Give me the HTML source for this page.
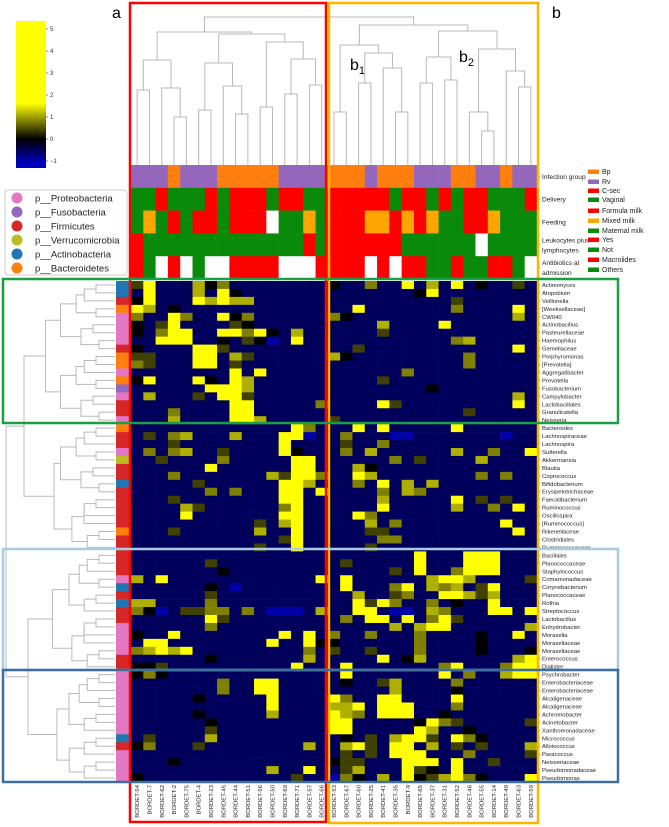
<!DOCTYPE html>
<html><head><meta charset="utf-8"><style>
html,body{margin:0;padding:0;background:#fff;}
svg{display:block;font-family:"Liberation Sans",sans-serif;}
</style></head><body>
<svg id="chart" width="669" height="827" viewBox="0 0 669 827" xmlns="http://www.w3.org/2000/svg">
<defs>
<linearGradient id="cbar" x1="0" y1="1" x2="0" y2="0">
<stop offset="0" stop-color="#0000c8"/><stop offset="0.045" stop-color="#0000b4"/>
<stop offset="0.197" stop-color="#000000"/><stop offset="0.44" stop-color="#ffff00"/><stop offset="1" stop-color="#ffff00"/>
</linearGradient>
</defs>
<g id="colorbar">
<rect x="16" y="21" width="30" height="147" fill="url(#cbar)"/>
</g>
<g id="cbticks" font-size="6" fill="#333"></g>
<text x="112" y="18" font-size="16">a</text>
<text x="552" y="18" font-size="16">b</text>
<text x="350" y="70" font-size="16">b<tspan font-size="11" dy="4">1</tspan></text>
<text x="459" y="62" font-size="16">b<tspan font-size="11" dy="4">2</tspan></text>
<g id="legend">
<rect x="5" y="190" width="122" height="85" rx="3" fill="#fff" stroke="#ccc" stroke-width="1"/>
</g>
<g id="coldendro" stroke="#b8b8b8" stroke-width="1" fill="none"></g>
<g id="rowdendro" stroke="#b8b8b8" stroke-width="1" fill="none"></g>
<g id="annot"></g>
<g id="annlabels" font-size="6.6" fill="#222"></g>
<g id="annlegend" font-size="7" fill="#222"></g>
<g id="phylum"></g>
<g id="cells"></g>
<g id="rowlabels" font-size="5.9" fill="#222"></g>
<g id="collabels" font-size="5.9" fill="#222"></g>
<g id="boxes" fill="none" stroke-width="2.5">
<rect x="130" y="3" width="196" height="819" stroke="#ff0000"/>
<rect x="329" y="3" width="209" height="820" stroke="#ffb400"/>
<rect x="3" y="279" width="615" height="144" stroke="#19a045"/>
<rect x="3" y="549" width="615" height="121" stroke="#a9cbe6"/>
<rect x="3" y="670" width="615" height="112" stroke="#3d6f9c"/>
</g>
</svg>
<script>
// ---- data ----
const columns = ["BORDET-54","BORDET-7","BORDET-62","BORDET-2","BORDET-75","BORDET-4","BORDET-23","BORDET-45","BORDET-44","BORDET-51","BORDET-56","BORDET-50","BORDET-69","BORDET-71","BORDET-57","BORDET-66","BORDET-53","BORDET-67","BORDET-60","BORDET-25","BORDET-41","BORDET-35","BORDET-9","BORDET-65","BORDET-37","BORDET-31","BORDET-52","BORDET-46","BORDET-55","BORDET-14","BORDET-49","BORDET-63","BORDET-59"];
const taxa = ["Actinomyces","Atopobium","Veillonella","[Weeksellaceae]","CW040","Actinobacillus","Pasteurellaceae","Haemophilus","Gemellaceae","Porphyromonas","[Prevotella]","Aggregatibacter","Prevotella","Fusobacterium","Campylobacter","Lactobacillales","Granulicatella","Neisseria",
"Bacteroides","Lachnospiraceae","Lachnospira","Sutterella","Akkermansia","Blautia","Coprococcus","Bifidobacterium","Erysipelotrichaceae","Faecalibacterium","Ruminococcus","Oscillospira","[Ruminococcus]","Rikenellaceae","Clostridiales","Ruminococcaceae",
"Bacillales","Planococcaceae","Staphylococcus","Comamonadaceae","Corynebacterium","Planococcaceae","Rothia","Streptococcus","Lactobacillus","Enhydrobacter","Moraxella","Moraxellaceae","Moraxellaceae","Enterococcus","Dialister",
"Psychrobacter","Enterobacteriaceae","Enterobacteriaceae","Alcaligenaceae","Alcaligenaceae","Achromobacter","Acinetobacter","Xanthomonadaceae","Micrococcus","Alloiococcus","Paracoccus","Neisseriaceae","Pseudomonadaceae","Pseudomonas"];
const phyla = "BBROPPPPROOPOFPRRP"+"ORRPVRRBRRRRRORR"+"RRRPBRBRRPPPPRR"+"PPPPPPPPBRPPPP";
// cell levels: ','=-1.1 '.'=-0.6 '0'=0 '1'=0.4 '2'=0.8 '3'=1.1 '5'=3
const levelValues = {",":-1.1,".":-0.6,"0":0,"1":0.4,"2":0.8,"3":1.1,"5":3};
const cellRows = [
"15...302........"+"0..2..5.3.5.0..1.",
".5...3.50......."+".......05........",
"05...53533......"+"..........1......",
"53.0............"+"..5.......2....5.",
"2..52..502......"+"20.............3.",
"0.15....10......"+"....3....5.......",
"0.255..55250.3.."+"....1............",
"..555..0.10,.5.."+"..........23.....",
"0....551........"+"..1............5.",
"11...55.31......"+"30.........2.....",
"21...55.1......."+"...........2.....",
"........5.5....."+"......2..........",
"05...50.53......"+"....1............",
"......5553......"+"........0........",
".3...1.551......"+"...............3.",
"........55.....2"+"....51.........5.",
"...2....55......"+"...........1.....",
"...3....553....."+"1................",
".............52."+"..5.5.....5......",
".1.23...3...55,."+".2...,,.......,..",
"...1........5..."+".1..2............",
".2.23..1....50.."+".2.3......3..2..5",
"..1....2.....55."+".....2.1....3....",
"......5......55."+"..30.............",
"...2.......31552"+"..53........2.2..",
".....1......553."+"..2.5.3.3........",
"......2.2...55.5"+"....2.32.........",
"...1........55.."+"....3.....5.1.1..",
"....31......25.."+"....5.....3..2.5.",
"....5.......55.."+"..52.............",
"..........1.35.."+"...3.2........5..",
"...1......3..5.."+"...11..........5.",
"............15.."+"....22...........",
"..........1..5.."+"...1.............",
"................"+".......5...555...",
"......1........."+".1.....5...555...",
".......0........"+".....1.5..2555...",
"3.5............5"+".5......3553....1",
"......0.,......."+".5...25.323.15...",
"......1........."+"..3..12..55313...",
"33....2........."+"..5152..2.0..5...",
"20,.1122.2.,,,.3"+"..55.,,.32...55.5",
"......51........"+".2.55.5.251......",
"......2........."+".....3.355......3",
"0..5........5.5."+"2..2...2....0..5.",
".55........5..50"+"0......2....0....",
"23535.........2."+"1..1...2....0...0",
"......0.......3."+"....5.03.......35",
"001..........5.."+".5.......25...255",
"020............."+".5.......5.2..355",
".......2..55...."+".0..13....2......",
".......2..55...."+".....3....0......",
".....0.....5...."+"52..55....5......",
"...........5...."+"335.555...2......",
".....0.....3...."+"532.555..0.......",
"......0........."+"55.....0521.....1",
"......1........."+"55.....53..0.....",
".1....3........."+".0.1.3551.520....",
"02...1........3."+".351.55.3.1.1...3",
"................"+".1.1.555...2....1",
"...0............"+"011...555.5..1...",
"...........3..5."+".13...510.5......",
"0............1.."+",20.3.5013520...5"
];
const infectionGroup = "RRRBRRRBBBBBRRRR"+"BBBRBBBRRRBBRRBRR";
const delivery       = "GGRGGGRGRRRGRRGG"+"RRRRRGRRGRGRRGGGR";
const feeding        = "NMNFNFFNFFFWNNMN"+"FFFMMFMFMNNFFMNNN";
const leukocytes     = "YNNNNNNNNNNNNNYN"+"YYYYYYNNNNNNWNNNN";
const antibiotics    = "MOWMWOWWMMMMWWWM"+"MMMWMWMMOOMOOMMOW";
const cbTicks = [5,4,3,2,1,0,-1];
const phylumNames = ["p__Proteobacteria","p__Fusobacteria","p__Firmicutes","p__Verrucomicrobia","p__Actinobacteria","p__Bacteroidetes"];
const phylumKeys = ["P","F","R","V","B","O"];

// ---- layout ----
const NS="http://www.w3.org/2000/svg";
const X0=131, X1=537, Y0=281, Y1=782;
const colW=(X1-X0)/columns.length, rowH=(Y1-Y0)/taxa.length;
const xPos=c=>X0+c*colW, yPos=r=>Y0+r*rowH;
const xC=c=>xPos(c)+colW/2, yC=r=>yPos(r)+rowH/2;
function mk(tag,attrs,parent){const e=document.createElementNS(NS,tag);for(const k in attrs)e.setAttribute(k,attrs[k]);parent.appendChild(e);return e;}
const phylumColor={P:"#e377c2",F:"#9467bd",R:"#d62728",V:"#bcbd22",B:"#1f77b4",O:"#ff7f0e"};
function valColor(v){
  if(v<0){const t=Math.min(1,-v/1.3);return `rgb(0,0,${Math.round(200*t)})`;}
  const t=Math.min(1,v/1.6);const c=Math.round(255*t);return `rgb(${c},${c},0)`;
}
const cbG=document.getElementById("cbticks");
const cbY=v=>161-(v+1)*(161-29)/6;
cbTicks.forEach(v=>{
  const l=mk("line",{x1:46,x2:48,y1:cbY(v),y2:cbY(v),stroke:"#333","stroke-width":0.6},cbG);
  
  
  const t=mk("text",{x:50,y:cbY(v)+2},cbG);t.textContent=v<0?"\u2212"+(-v):String(v);
  
  
});
const lg=document.getElementById("legend");
phylumNames.forEach((n,i)=>{
  const y=198+i*14;
  const c=mk("circle",{cx:17,cy:y,r:5.5,fill:phylumColor[phylumKeys[i]]},lg);
  
  
  const t=mk("text",{x:35,y:y+3.5,"font-size":"9.5",fill:"#222"},lg);t.textContent=n;
  
  
});
const cg=document.getElementById("cells");
cellRows.forEach((row,r)=>{
  for(let c=0;c<columns.length;c++){
    const v=levelValues[row[c]]??-0.6;
    const e=mk("rect",{x:xPos(c).toFixed(2),y:yPos(r).toFixed(2),width:(colW+0.3).toFixed(2),height:(rowH+0.3).toFixed(2),fill:valColor(v)},cg);
    
    
  }
});
const pg=document.getElementById("phylum");
for(let r=0;r<taxa.length;r++){
  const e=mk("rect",{x:116,y:yPos(r).toFixed(2),width:14,height:(rowH+0.3).toFixed(2),fill:phylumColor[phyla[r]]},pg);
  
  
}
const rl=document.getElementById("rowlabels");
taxa.forEach((n,r)=>{
  mk("line",{x1:X1+1,x2:X1+3,y1:yC(r),y2:yC(r),stroke:"#444","stroke-width":0.5},rl);
  const t=mk("text",{x:X1+5,y:yC(r)+2},rl);t.textContent=n;
  
  
});
const cl=document.getElementById("collabels");
columns.forEach((n,c)=>{
  const t=mk("text",{x:0,y:0,"text-anchor":"end",transform:`translate(${xC(c)+2},785) rotate(-90)`},cl);t.textContent=n;
  
  
});
const annColors={
 inf:{B:"#ff7f0e",R:"#9467bd"},
 del:{R:"#ff0000",G:"#0a8a0a"},
 feed:{F:"#ff0000",M:"#ffa500",N:"#0a8a0a",W:"#ffffff"},
 leu:{Y:"#ff0000",N:"#0a8a0a",W:"#ffffff"},
 abx:{M:"#ff0000",O:"#0a8a0a",W:"#ffffff"}
};
const annRows=[[infectionGroup,annColors.inf,"infection-group"],[delivery,annColors.del,"delivery"],[feeding,annColors.feed,"feeding"],[leukocytes,annColors.leu,"leukocytes"],[antibiotics,annColors.abx,"antibiotics"]];
const ag=document.getElementById("annot");
const aTop=165, aH=22.8;
annRows.forEach(([s,cm,name],i)=>{
  for(let c=0;c<s.length;c++){
    const e=mk("rect",{x:xPos(c).toFixed(2),y:aTop+i*aH,width:(colW+0.3).toFixed(2),height:aH+0.3,fill:cm[s[c]]},ag);
    
    
  }
});
const al=document.getElementById("annlabels");
[["Infection group"],["Delivery"],["Feeding"],["Leukocytes plus","lymphocytes"],["Antibiotics at","admission"]].forEach((ls,i)=>{
  const yc=aTop+i*aH+aH/2;
  mk("line",{x1:X1+1,x2:X1+3,y1:yc,y2:yc,stroke:"#444","stroke-width":0.5},al);
  ls.forEach((l,j)=>{
    const t=mk("text",{x:X1+5,y:yc+2.5+(ls.length>1?(j-0.5)*10:0)},al);t.textContent=l;
    
    
  });
});
const alg=document.getElementById("annlegend");
[["Bp","#ff7f0e"],["Rv","#9467bd"],["C-sec","#ff0000"],["Vaginal","#0a8a0a"],["Formula milk","#ff0000"],["Mixed milk","#ffa500"],["Maternal milk","#0a8a0a"],["Yes","#ff0000"],["Not","#0a8a0a"],["Macrolides","#ff0000"],["Others","#0a8a0a"]].forEach(([n,col],i)=>{
  const ys=[172,182,191,200,211,221,231,240,250,260,270][i];
  const r=mk("rect",{x:588,y:ys-2.5,width:11,height:4.5,fill:col},alg);
  
  
  const t=mk("text",{x:602,y:ys+2},alg);t.textContent=n;
  
  
});
const colTree=[[[[0,1,90],[2,[3,4,117],88],60],[[[5,6,110],[7,[8,9,114],86],63],[[10,11,107],[[12,13,94],[14,15,85],59],42],34],32],
 [[[16,17,112],[[18,19,83],[20,[21,22,112],68],53],45],[[[23,24,83],[25,26,80],57],[[27,[28,29,131],112],[30,[31,32,87],71],49],31],25],17];
const cdg=document.getElementById("coldendro");
function drawCol(n){
  if(typeof n==="number")return {x:xC(n),y:165};
  const a=drawCol(n[0]),b=drawCol(n[1]),h=n[2];
  mk("path",{d:`M${a.x},${a.y}V${h}H${b.x}V${b.y}`},cdg);
  return {x:(a.x+b.x)/2,y:h};
}
drawCol(colTree);
const rdg=document.getElementById("rowdendro");
function buildRow(lo,hi,xmin){
  if(lo===hi)return lo;
  const mid=Math.floor((lo+hi+((lo*7+hi)%3===0?1:0))/2);
  const m=Math.min(Math.max(mid,lo),hi-1);
  const n=hi-lo+1;
  return [buildRow(lo,m,xmin),buildRow(m+1,hi,xmin),Math.max(xmin,114-Math.log2(n)*15-((lo+hi)%3)*3)];
}
const rowTree=[[buildRow(0,17,30),buildRow(18,33,30),24],[buildRow(34,48,30),buildRow(49,62,30),28],6];
function drawRow(n){
  if(typeof n==="number")return {x:115,y:yC(n)};
  const a=drawRow(n[0]),b=drawRow(n[1]),h=n[2];
  mk("path",{d:`M${a.x},${a.y}H${h}V${b.y}H${b.x}`},rdg);
  return {x:h,y:(a.y+b.y)/2};
}
drawRow(rowTree);
</script>
</body></html>
